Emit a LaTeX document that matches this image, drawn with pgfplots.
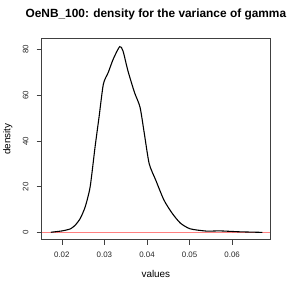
\documentclass[border=0pt]{standalone}
\usepackage{fontspec}
\setmainfont{Liberation Sans}
\usepackage{pgfplots}
\pgfplotsset{compat=1.18}
\begin{document}
\begin{tikzpicture}
\begin{axis}[
  scale only axis,
  width=231pt, height=203pt,
  xmin=0.01523, xmax=0.06893,
  ymin=-3.1, ymax=84.8,
  axis lines=box,
  axis line style={black!75, line width=0.7pt},
  tick style={black!75, line width=0.6pt},
  tick align=outside,
  major tick length=5pt,
  scaled x ticks=false,
  xtick={0.02,0.03,0.04,0.05,0.06},
  xticklabels={0.02,0.03,0.04,0.05,0.06},
  ytick={0,20,40,60,80},
  yticklabels={0,20,40,60,80},
  xtick pos=left, ytick pos=left,
  /pgf/number format/assume math mode=true,
  ticklabel style={font=\fontsize{8}{9.6}\selectfont, text=black!85},
  yticklabel style={rotate=90, anchor=center, yshift=11pt},
  xticklabel style={anchor=center, yshift=-10pt},
  xlabel={values},
  ylabel={density},
  xlabel style={font=\fontsize{10}{12}\selectfont, at={(axis description cs:0.5,-0.17)}, anchor=center},
  ylabel style={font=\fontsize{10}{12}\selectfont, at={(axis description cs:-0.147,0.5)}, anchor=center},
  title={OeNB\_100: density for the variance of gamma},
  title style={font=\fontsize{12}{14}\bfseries, at={(axis description cs:0.5,1.089)}, anchor=center},
  clip=true,
  after end axis/.code={\draw[black!75, line width=0.7pt] (rel axis cs:0,0) rectangle (rel axis cs:1,1);},
]
\addplot[red!50, line width=0.8pt, forget plot] coordinates {(0.0100,0) (0.0750,0)};
\addplot[black, line width=1.1pt, smooth, tension=0.4] coordinates {
(0.01741,0.1) (0.0201,0.7) (0.02204,1.6) (0.02319,3.3) (0.02434,6.2)
(0.0255,11.3) (0.02665,20) (0.0278,37.4) (0.02873,50.4) (0.02975,64.9)
(0.0309,70) (0.03206,75.8) (0.03358,81.3) (0.03436,79.4) (0.03552,70.7)
(0.03705,61.3) (0.03836,54.8) (0.03935,43.5) (0.04051,30.1) (0.04205,22.9)
(0.04397,14.2) (0.04591,8.4) (0.04783,4.1) (0.05014,1.6) (0.054,0.6)
(0.05707,0.7) (0.06169,0.3) (0.06707,0.05)
};
\end{axis}
\path ([shift={(-39.3pt,-50pt)}]current axis.south west) rectangle ([shift={(21pt,39pt)}]current axis.north east);
\end{tikzpicture}
\end{document}
